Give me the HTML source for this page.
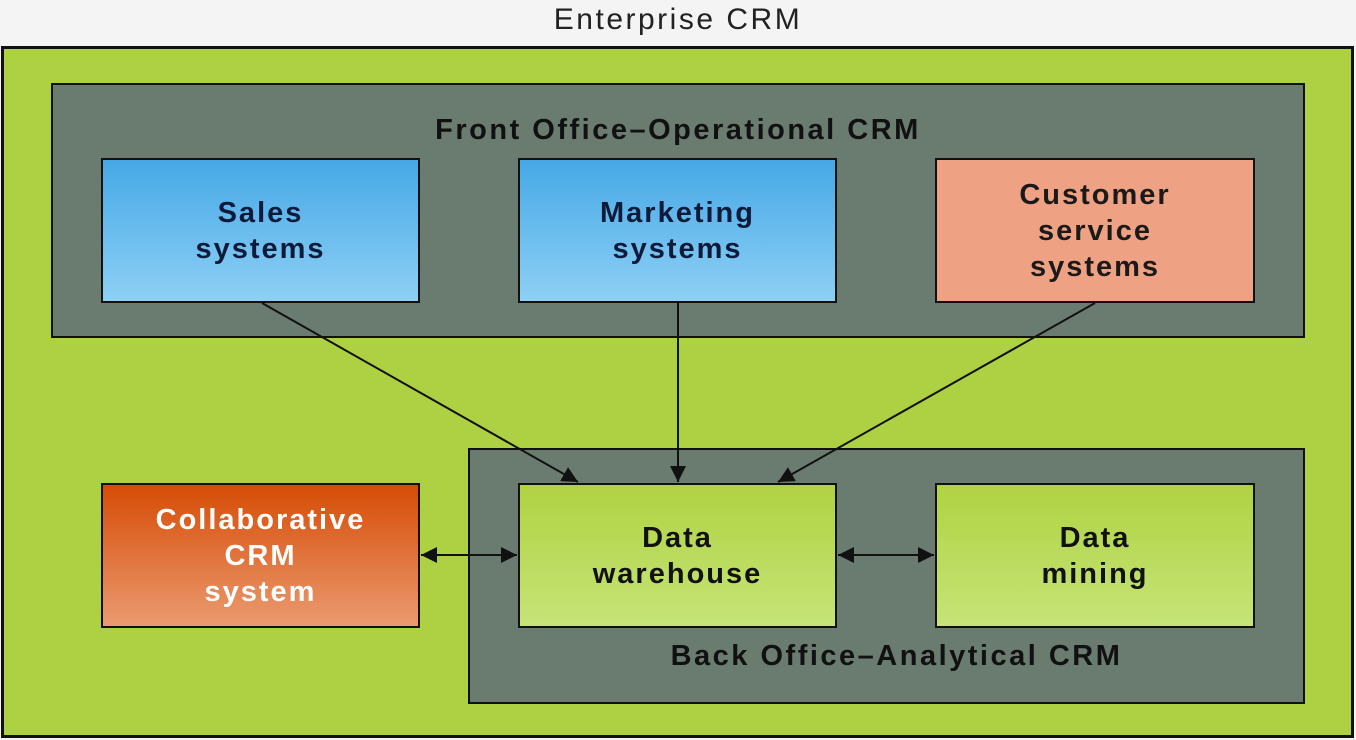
<!DOCTYPE html>
<html><head><style>
body{margin:0;width:1356px;height:740px;background:#f4f4f4;position:relative;overflow:hidden;font-family:"Liberation Sans",sans-serif}
.a{position:absolute;box-sizing:border-box}
.b{display:flex;align-items:center;justify-content:center;text-align:center;font-size:29px;font-weight:bold;line-height:36px;border:2px solid #111;letter-spacing:2px}
.lbl{position:absolute;font-size:29px;font-weight:bold;color:#111;letter-spacing:2.5px}
</style></head><body>
<div class="lbl" style="left:0;width:1356px;top:3px;text-align:center;font-weight:normal;font-size:30px;letter-spacing:2.5px;color:#222">Enterprise CRM</div>
<div class="a" style="left:1px;top:46px;width:1353px;height:692px;background:#aed043;border:3px solid #111"></div>
<div class="a" style="left:51px;top:83px;width:1254px;height:255px;background:#6a7b70;border:2px solid #111"></div>
<div class="lbl" style="left:51px;width:1254px;top:114px;text-align:center">Front Office–Operational CRM</div>
<div class="a" style="left:468px;top:448px;width:837px;height:256px;background:#6a7b70;border:2px solid #111"></div>
<div class="lbl" style="left:468px;width:837px;top:640px;text-align:center;padding-left:10px">Back Office–Analytical CRM</div>
<div class="a b" style="left:101px;top:158px;width:319px;height:145px;background:linear-gradient(#46a8e6,#8dd0f5);color:#0d1a3a">Sales<br>systems</div>
<div class="a b" style="left:518px;top:158px;width:319px;height:145px;background:linear-gradient(#46a8e6,#8dd0f5);color:#0d1a3a">Marketing<br>systems</div>
<div class="a b" style="left:935px;top:158px;width:320px;height:145px;background:#eea283;color:#1a1a1a">Customer<br>service<br>systems</div>
<div class="a b" style="left:101px;top:483px;width:319px;height:145px;background:linear-gradient(#d64c06,#eb9a70);color:#fff">Collaborative<br>CRM<br>system</div>
<div class="a b" style="left:518px;top:483px;width:319px;height:145px;background:linear-gradient(#b0d242,#c6e478);color:#111">Data<br>warehouse</div>
<div class="a b" style="left:935px;top:483px;width:320px;height:145px;background:linear-gradient(#b0d242,#c6e478);color:#111">Data<br>mining</div>
<svg class="a" style="left:0;top:0" width="1356" height="740">
<defs><marker id="m" viewBox="0 0 10 10" refX="10" refY="5" markerWidth="8" markerHeight="8" orient="auto-start-reverse"><path d="M0,0L10,5L0,10z" fill="#111"/></marker></defs>
<g stroke="#111" stroke-width="2" fill="none">
<line x1="262" y1="303" x2="578" y2="482" marker-end="url(#m)"/>
<line x1="678" y1="303" x2="678" y2="482" marker-end="url(#m)"/>
<line x1="1095" y1="303" x2="778" y2="482" marker-end="url(#m)"/>
<line x1="421" y1="555" x2="517" y2="555" marker-start="url(#m)" marker-end="url(#m)"/>
<line x1="838" y1="555" x2="934" y2="555" marker-start="url(#m)" marker-end="url(#m)"/>
</g></svg>
</body></html>
